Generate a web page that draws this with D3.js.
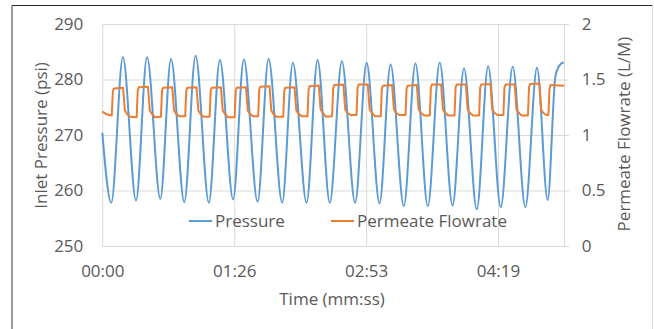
<!DOCTYPE html>
<html>
<head>
<meta charset="utf-8">
<script src="https://cdn.jsdelivr.net/npm/d3@7"></script>
<style>
  body { margin: 0; background: #fff; }
  text { font-family: 'Open Sans', sans-serif; fill: #595959; }
  .grid line { stroke: #d9d9d9; stroke-width: 1; }
  .grid .domain { display: none; }
</style>
</head>
<body>
<div id="chart"></div>
<script>
// time in seconds
const pressurePoints = [
  [0, 270.4], [5.9, 257.8], [13.5, 284.0], [22.1, 258.2], [29.3, 284.0],
  [38.0, 258.5], [45.0, 283.7], [53.7, 257.9], [61.1, 284.3], [69.8, 257.8],
  [77.0, 283.5], [85.7, 258.4], [92.7, 283.6], [101.7, 258.0], [108.9, 283.7],
  [117.8, 257.8], [124.8, 283.0], [133.8, 257.8], [141.0, 283.5], [149.0, 257.8],
  [156.9, 283.3], [165.6, 257.8], [173.1, 283.0], [181.6, 257.7], [188.8, 282.7],
  [197.5, 257.2], [205.1, 282.9], [213.2, 257.2], [221.0, 283.0], [229.4, 257.3],
  [236.9, 282.0], [245.3, 256.6], [252.7, 282.4], [261.0, 257.0], [268.8, 282.3],
  [277.1, 257.0], [284.7, 282.1], [291.7, 258.3], [296.8, 280.6], [299.6, 282.6],
  [302.2, 283.1]
];

const flowPoints = [
  [0, 1.21], [3, 1.185], [6.2, 1.175], [6.9, 1.39], [7.6, 1.42], [13.6, 1.425], [14.8, 1.22], [16.2, 1.19], [18.2, 1.165],
  [22.5, 1.16], [23.2, 1.40], [23.9, 1.43], [29.9, 1.435], [31.1, 1.22], [32.5, 1.19], [34.5, 1.16],
  [38.4, 1.165], [39.1, 1.40], [39.8, 1.426], [45.8, 1.43], [47.0, 1.22], [48.4, 1.19], [50.4, 1.17],
  [54.3, 1.17], [55.0, 1.40], [55.7, 1.426], [61.7, 1.43], [62.9, 1.22], [64.3, 1.19], [66.3, 1.165],
  [70.3, 1.165], [71.0, 1.40], [71.7, 1.426], [77.7, 1.43], [78.9, 1.22], [80.3, 1.19], [82.3, 1.16],
  [86.7, 1.16], [87.4, 1.40], [88.1, 1.426], [94.1, 1.43], [95.3, 1.22], [96.7, 1.19], [98.7, 1.17],
  [102.1, 1.17], [102.8, 1.41], [103.5, 1.435], [109.5, 1.44], [110.7, 1.22], [112.1, 1.19], [114.1, 1.165],
  [118.5, 1.165], [119.2, 1.40], [119.9, 1.426], [125.9, 1.43], [127.1, 1.22], [128.5, 1.19], [130.5, 1.17],
  [134.4, 1.17], [135.1, 1.41], [135.8, 1.44], [141.8, 1.445], [143.0, 1.23], [144.4, 1.2], [146.4, 1.165],
  [150.5, 1.17], [151.2, 1.42], [151.9, 1.45], [157.9, 1.455], [159.1, 1.23], [160.5, 1.2], [162.5, 1.18],
  [166.5, 1.18], [167.2, 1.43], [167.9, 1.455], [173.9, 1.455], [175.1, 1.23], [176.5, 1.2], [178.5, 1.17],
  [182.4, 1.17], [183.1, 1.42], [183.8, 1.444], [189.8, 1.45], [191.0, 1.23], [192.4, 1.2], [194.4, 1.18],
  [198.6, 1.18], [199.3, 1.42], [200.0, 1.444], [206.0, 1.45], [207.2, 1.23], [208.6, 1.2], [210.6, 1.175],
  [214.5, 1.175], [215.2, 1.43], [215.9, 1.455], [221.9, 1.455], [223.1, 1.23], [224.5, 1.2], [226.5, 1.175],
  [230.7, 1.175], [231.4, 1.43], [232.1, 1.455], [238.1, 1.455], [239.3, 1.23], [240.7, 1.2], [242.7, 1.175],
  [246.8, 1.175], [247.5, 1.43], [248.2, 1.455], [254.2, 1.46], [255.4, 1.23], [256.8, 1.2], [258.8, 1.18],
  [262.7, 1.18], [263.4, 1.43], [264.1, 1.455], [270.1, 1.455], [271.3, 1.23], [272.7, 1.2], [274.7, 1.175],
  [278.8, 1.175], [279.5, 1.43], [280.2, 1.46], [286.2, 1.465], [287.4, 1.23], [288.8, 1.2], [290.8, 1.18],
  [292.2, 1.18], [292.9, 1.42], [293.6, 1.45], [302.4, 1.444]
];

const xTickValues = [0, 86.4, 172.8, 259.2];
const xTickLabels = ['00:00', '01:26', '02:53', '04:19'];
const leftTicks = [250, 260, 270, 280, 290];
const rightTicks = [0, 0.5, 1, 1.5, 2];
const seriesNames = ['Pressure', 'Permeate Flowrate'];
const seriesColors = ['#5B9BD5', '#ED7D31'];

const width = 654;
const height = 329;
const margin = { top: 24, right: 90, bottom: 83, left: 102.3 };
const plotW = width - margin.left - margin.right;
const plotH = height - margin.top - margin.bottom;

const svg = d3.select('#chart')
  .append('svg')
  .attr('width', width)
  .attr('height', height);

// chart frame
svg.append('line').attr('x1', 12).attr('x2', 652.5).attr('y1', 5.5).attr('y2', 5.5)
  .attr('stroke', '#262626').attr('stroke-width', 1.2);
svg.append('line').attr('x1', 12).attr('x2', 12).attr('y1', 5.5).attr('y2', height)
  .attr('stroke', '#595959').attr('stroke-width', 1.2);
svg.append('line').attr('x1', 652.5).attr('x2', 652.5).attr('y1', 5.5).attr('y2', height)
  .attr('stroke', '#d9d9d9');

const g = svg.append('g')
  .attr('transform', `translate(${margin.left}, ${margin.top})`);

const x = d3.scaleLinear().domain([0, 302.4]).range([0, plotW]);
const yL = d3.scaleLinear().domain([250, 290]).range([plotH, 0]);
const yR = d3.scaleLinear().domain([0, 2]).range([plotH, 0]);

const fontSize = 17;

// horizontal gridlines + left labels
const yAxis = d3.axisLeft(yL)
  .tickValues(leftTicks)
  .tickSizeInner(-plotW)
  .tickSizeOuter(0)
  .tickPadding(19);

g.append('g')
    .attr('class', 'grid')
    .call(yAxis)
  .selectAll('text')
    .attr('font-size', fontSize);

// vertical gridlines + time labels
const xAxis = d3.axisBottom(x)
  .tickValues(xTickValues)
  .tickSizeInner(-plotH)
  .tickSizeOuter(0)
  .tickPadding(18.5)
  .tickFormat((d, i) => xTickLabels[i]);

g.append('g')
    .attr('class', 'grid')
    .attr('transform', `translate(0, ${plotH})`)
    .call(xAxis)
  .selectAll('text')
    .attr('font-size', fontSize);

// bottom axis line
g.append('line')
  .attr('x1', 0).attr('x2', plotW + 5)
  .attr('y1', plotH + 0.5).attr('y2', plotH + 0.5)
  .attr('stroke', '#d9d9d9');

// right axis
const yAxisRight = d3.axisRight(yR)
  .tickValues(rightTicks)
  .tickSizeInner(5)
  .tickSizeOuter(0)
  .tickPadding(12.7)
  .tickFormat(d3.format('~g'));

const rightAxis = g.append('g')
    .attr('transform', `translate(${plotW}, 0)`)
    .call(yAxisRight);

rightAxis.selectAll('line, .domain').attr('stroke', '#d9d9d9');
rightAxis.selectAll('text').attr('font-size', fontSize);

// series
const pressureLine = d3.line()
  .x(d => x(d[0]))
  .y(d => yL(d[1]))
  .curve(d3.curveMonotoneX);

const flowLine = d3.line()
  .x(d => x(d[0]))
  .y(d => yR(d[1]));

g.append('path')
    .datum(pressurePoints)
    .attr('fill', 'none')
    .attr('stroke', seriesColors[0])
    .attr('stroke-width', 2)
    .attr('stroke-linejoin', 'round')
    .attr('d', pressureLine);

g.append('path')
    .datum(flowPoints)
    .attr('fill', 'none')
    .attr('stroke', seriesColors[1])
    .attr('stroke-width', 2)
    .attr('stroke-linejoin', 'round')
    .attr('d', flowLine);

// legend
const legendX = [189, 331];
seriesNames.forEach((name, i) => {
  const lg = svg.append('g').attr('transform', `translate(${legendX[i]}, 221)`);
  lg.append('line')
    .attr('x1', 0).attr('x2', 23)
    .attr('stroke', seriesColors[i])
    .attr('stroke-width', 2);
  lg.append('text')
    .attr('x', 26)
    .attr('dy', '0.35em')
    .attr('font-size', fontSize)
    .text(name);
});

// axis titles
svg.append('text')
  .attr('transform', 'translate(41.5, 135.5) rotate(-90)')
  .attr('text-anchor', 'middle')
  .attr('dy', '0.35em')
  .attr('font-size', fontSize)
  .text('Inlet Pressure (psi)');

svg.append('text')
  .attr('transform', 'translate(624, 134) rotate(-90)')
  .attr('text-anchor', 'middle')
  .attr('dy', '0.35em')
  .attr('font-size', fontSize)
  .text('Permeate Flowrate (L/M)');

svg.append('text')
  .attr('x', 332)
  .attr('y', 299.5)
  .attr('text-anchor', 'middle')
  .attr('dy', '0.35em')
  .attr('font-size', fontSize)
  .text('Time (mm:ss)');
</script>
</body>
</html>
